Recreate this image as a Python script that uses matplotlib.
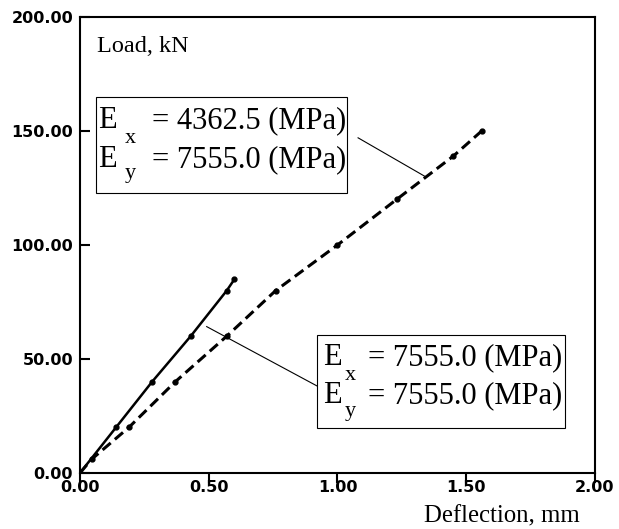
import matplotlib
matplotlib.use("Agg")
from matplotlib import pyplot as plt
from matplotlib.patches import Rectangle

# solid curve (Ex = 7555.0)
defl_a = [0.0, 0.14, 0.28, 0.43, 0.57, 0.60]
load_a = [0.0, 20.0, 40.0, 60.0, 80.0, 85.0]

# dashed curve (Ex = 4362.5)
defl_b = [0.0, 0.045, 0.19, 0.37, 0.57, 0.76, 1.0, 1.23, 1.45, 1.56]
load_b = [0.0, 6.0, 20.0, 40.0, 60.0, 80.0, 100.0, 120.0, 139.0, 150.0]

xticks = [0.0, 0.5, 1.0, 1.5, 2.0]
yticks = [0.0, 50.0, 100.0, 150.0, 200.0]

ex_b, ey_b = "4362.5", "7555.0"
ex_a, ey_a = "7555.0", "7555.0"

serif = 'Liberation Serif'

fig = plt.figure(figsize=(6.19, 5.29), dpi=100)
ax = fig.add_axes([0.1292, 0.1059, 0.8320, 0.8620])

ax.plot(defl_a, load_a, 'k-', lw=1.8, marker='o', ms=3.5)
ax.plot(defl_b, load_b, 'k--', lw=2.2, dashes=(3.5, 1.8), marker='o', ms=3.5)

ax.set_xlim(0, 2)
ax.set_ylim(0, 200)
ax.set_xticks(xticks)
ax.set_yticks(yticks)
ax.set_xticklabels(["%.2f" % v for v in xticks], fontweight='bold', fontsize=11.5)
ax.set_yticklabels(["%.2f" % v for v in yticks], fontweight='bold', fontsize=11.5)
ax.tick_params(axis='y', direction='in', length=7, width=1.5, pad=5)
ax.tick_params(axis='x', direction='out', length=7, width=1.5, pad=-2)
for s in ax.spines.values():
    s.set_linewidth(1.5)

ax.text(0.065, 184.6, "Load, kN", family=serif, fontsize=17.5, va='baseline')
ax.text(1.942, -21.9, "Deflection, mm", family=serif, fontsize=17.8,
        ha='right', va='baseline', clip_on=False)


def ebox(x0, x1, y0, y1, xe, xs, xq, base1, base2, sub1, sub2, vx, vy):
    ax.add_patch(Rectangle((x0, y0), x1 - x0, y1 - y0, fc='white', ec='k',
                           lw=0.8, zorder=3))
    kw = dict(family=serif, va='baseline', zorder=4)
    ax.text(xe, base1, "E", fontsize=22, **kw)
    ax.text(xs, sub1, "x", fontsize=16, **kw)
    ax.text(xq, base1, "= " + vx + " (MPa)", fontsize=22, **kw)
    ax.text(xe, base2, "E", fontsize=22, **kw)
    ax.text(xs, sub2, "y", fontsize=16, **kw)
    ax.text(xq, base2, "= " + vy + " (MPa)", fontsize=22, **kw)


# upper box (dashed curve)
ebox(0.062, 1.037, 122.8, 164.9, 0.07, 0.175, 0.28,
     151.3, 134.2, 144.7, 129.4, ex_b, ey_b)
# lower box (solid curve)
ebox(0.920, 1.884, 19.7, 60.5, 0.943, 1.03, 1.118,
     47.4, 30.7, 40.8, 25.0, ex_a, ey_a)

# leader lines
ax.plot([1.08, 1.344], [147, 129.8], 'k-', lw=0.8)
ax.plot([0.492, 0.92], [64.2, 38.2], 'k-', lw=0.8)

fig.savefig("out.png", dpi=100)
